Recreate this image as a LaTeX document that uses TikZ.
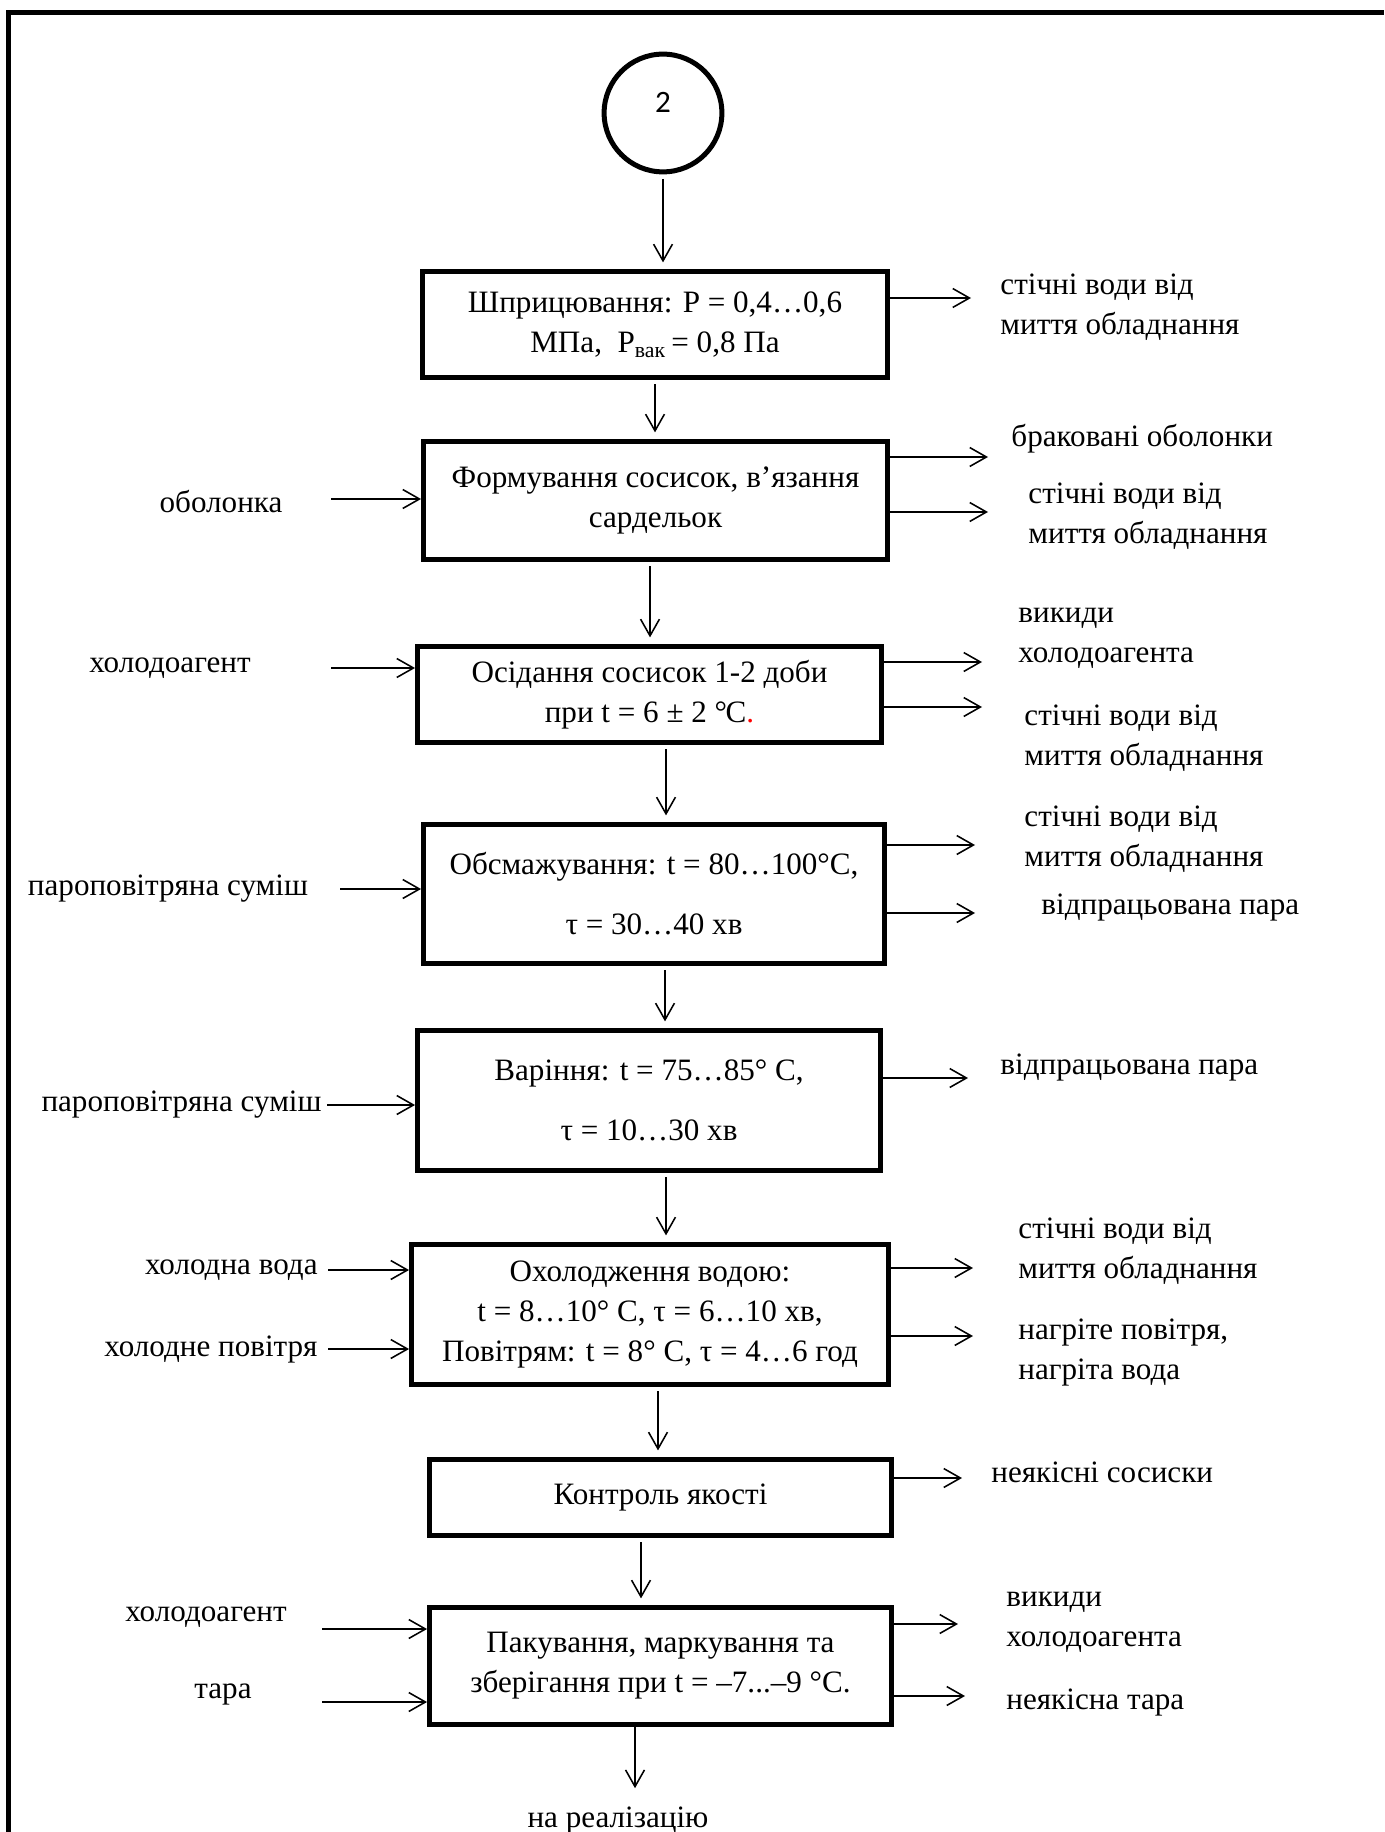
\documentclass[tikz,border=0pt]{standalone}
\usepackage{fontspec}
\setmainfont{Liberation Serif}
\newfontfamily\digitfont{Carlito}
\usetikzlibrary{arrows.meta}

\begin{document}
\begin{tikzpicture}[x=0.45pt, y=-0.45pt,
    every node/.style={font=\fontsize{14}{18}\selectfont},
    stage/.style 2 args={draw, line width=2.2pt, minimum width=#1*0.45pt, minimum height=#2*0.45pt, align=center, inner sep=0pt},
    arr/.style={line width=0.7pt, -{Straight Barb[length=7.5pt, width=8.5pt]}},
    outlbl/.style={anchor=west, align=left, inner sep=0pt},
    inlbl/.style={align=center, inner sep=0pt}]
    \useasboundingbox (0,0) rectangle (1384,1832);
    \draw[line width=2.25pt] (8.5,1832) -- (8.5,12.5) -- (1384,12.5);

    \node[circle, draw, line width=2.25pt, minimum size=53pt, inner sep=0pt] (c) at (663,113) {};
    \node[font=\digitfont\fontsize{14}{16}\selectfont] (n2) at (663,102) {2};

    \node[stage={465}{106}] (b1) at (655,324.5) {Шприцювання: P = 0,4…0,6\\МПа,\ \ P\textsubscript{вак}\,= 0,8 Па};
    \node[stage={464}{118}] (b2) at (655.5,500.5) {Формування сосисок, в’язання\\сардельок};
    \node[stage={464}{96}] (b3) at (649.5,694.5) {Осідання сосисок 1-2 доби\\при t = 6 ± 2 °\kern-0.05em C\textcolor{red}{.}};
    \node[stage={461}{139}] (b4) at (654,894) {Обсмажування: t = 80…100°C,\\[9pt]τ = 30…40 хв};
    \node[stage={463}{140}] (b5) at (649,1100.5) {Варіння: t = 75…85° C,\\[9pt]τ = 10…30 хв};
    \node[stage={477}{140}] (b6) at (650,1314.5) {Охолодження водою:\\t = 8…10° C, τ = 6…10 хв,\\Повітрям: t = 8° C, τ = 4…6 год};
    \node[stage={462}{76}] (b7) at (660.5,1497.5) {Контроль якості};
    \node[stage={462}{117}] (b8) at (660.5,1666) {Пакування, маркування та\\зберігання при t = –7...–9 °C.};
    \node[inlbl] (real) at (618,1820) {на реалізацію};

    \node[inlbl] (l1) at (221,502) {оболонка};
    \node[inlbl] (l2) at (170,668) {холодоагент};
    \node[inlbl] (l3) at (168,889) {пароповітряна суміш};
    \node[inlbl, anchor=east] (l4) at (322,1105) {пароповітряна суміш};
    \node[inlbl, anchor=east] (l5) at (318,1270) {холодна вода};
    \node[inlbl, anchor=east] (l6) at (318,1349) {холодне повітря};
    \node[inlbl] (l7) at (206,1617) {холодоагент};
    \node[inlbl] (l8) at (223,1694) {тара};

    \node[outlbl] (r1) at (1000,307) {стічні води від\\миття обладнання};
    \node[outlbl] (r2) at (1011,439) {браковані оболонки};
    \node[outlbl] (r3) at (1028,516) {стічні води від\\миття обладнання};
    \node[outlbl] (r4) at (1018,638) {викиди\\холодоагента};
    \node[outlbl] (r5) at (1024,738) {стічні води від\\миття обладнання};
    \node[outlbl] (r6) at (1024,839) {стічні води від\\миття обладнання};
    \node[outlbl] (r7) at (1041,908) {відпрацьована пара};
    \node[outlbl] (r8) at (1000,1068) {відпрацьована пара};
    \node[outlbl] (r9) at (1018,1251) {стічні води від\\миття обладнання};
    \node[outlbl] (r10) at (1018,1352) {нагріте повітря,\\нагріта вода};
    \node[outlbl] (r11) at (991,1472) {неякісні сосиски};
    \node[outlbl] (r12) at (1006,1622) {викиди\\холодоагента};
    \node[outlbl] (r13) at (1006,1702) {неякісна тара};

    \foreach \a/\b/\x in {c/b1/663, b1/b2/655, b2/b3/650, b3/b4/666, b4/b5/665, b5/b6/666, b6/b7/658, b7/b8/641}
        \draw[arr, shorten <=2pt, shorten >=3pt] (\x,0 |- \a.south) -- (\x,0 |- \b.north);
    \draw[arr, shorten >=8pt] (635,0 |- b8.south) -- (635,0 |- real.north);

    \foreach \b/\y/\x [count=\i] in {b1/298/971, b2/457/988, b2/512/988, b3/662/982, b3/707/982, b4/845/975, b4/913/975, b5/1078/968, b6/1268/973, b6/1336/973, b7/1478/962, b8/1624/958, b8/1696/965}
        {\coordinate (o\i) at (\x,\y); \draw[arr] (o\i -| \b.east) -- (o\i);}
    \foreach \b/\y/\x [count=\i] in {b2/499/331, b3/668/331, b4/889/340, b5/1105/327, b6/1270/328, b6/1349/328, b8/1629/322, b8/1702/322}
        {\coordinate (i\i) at (\x,\y); \draw[arr] (i\i) -- (i\i -| \b.west);}
\end{tikzpicture}
\end{document}
